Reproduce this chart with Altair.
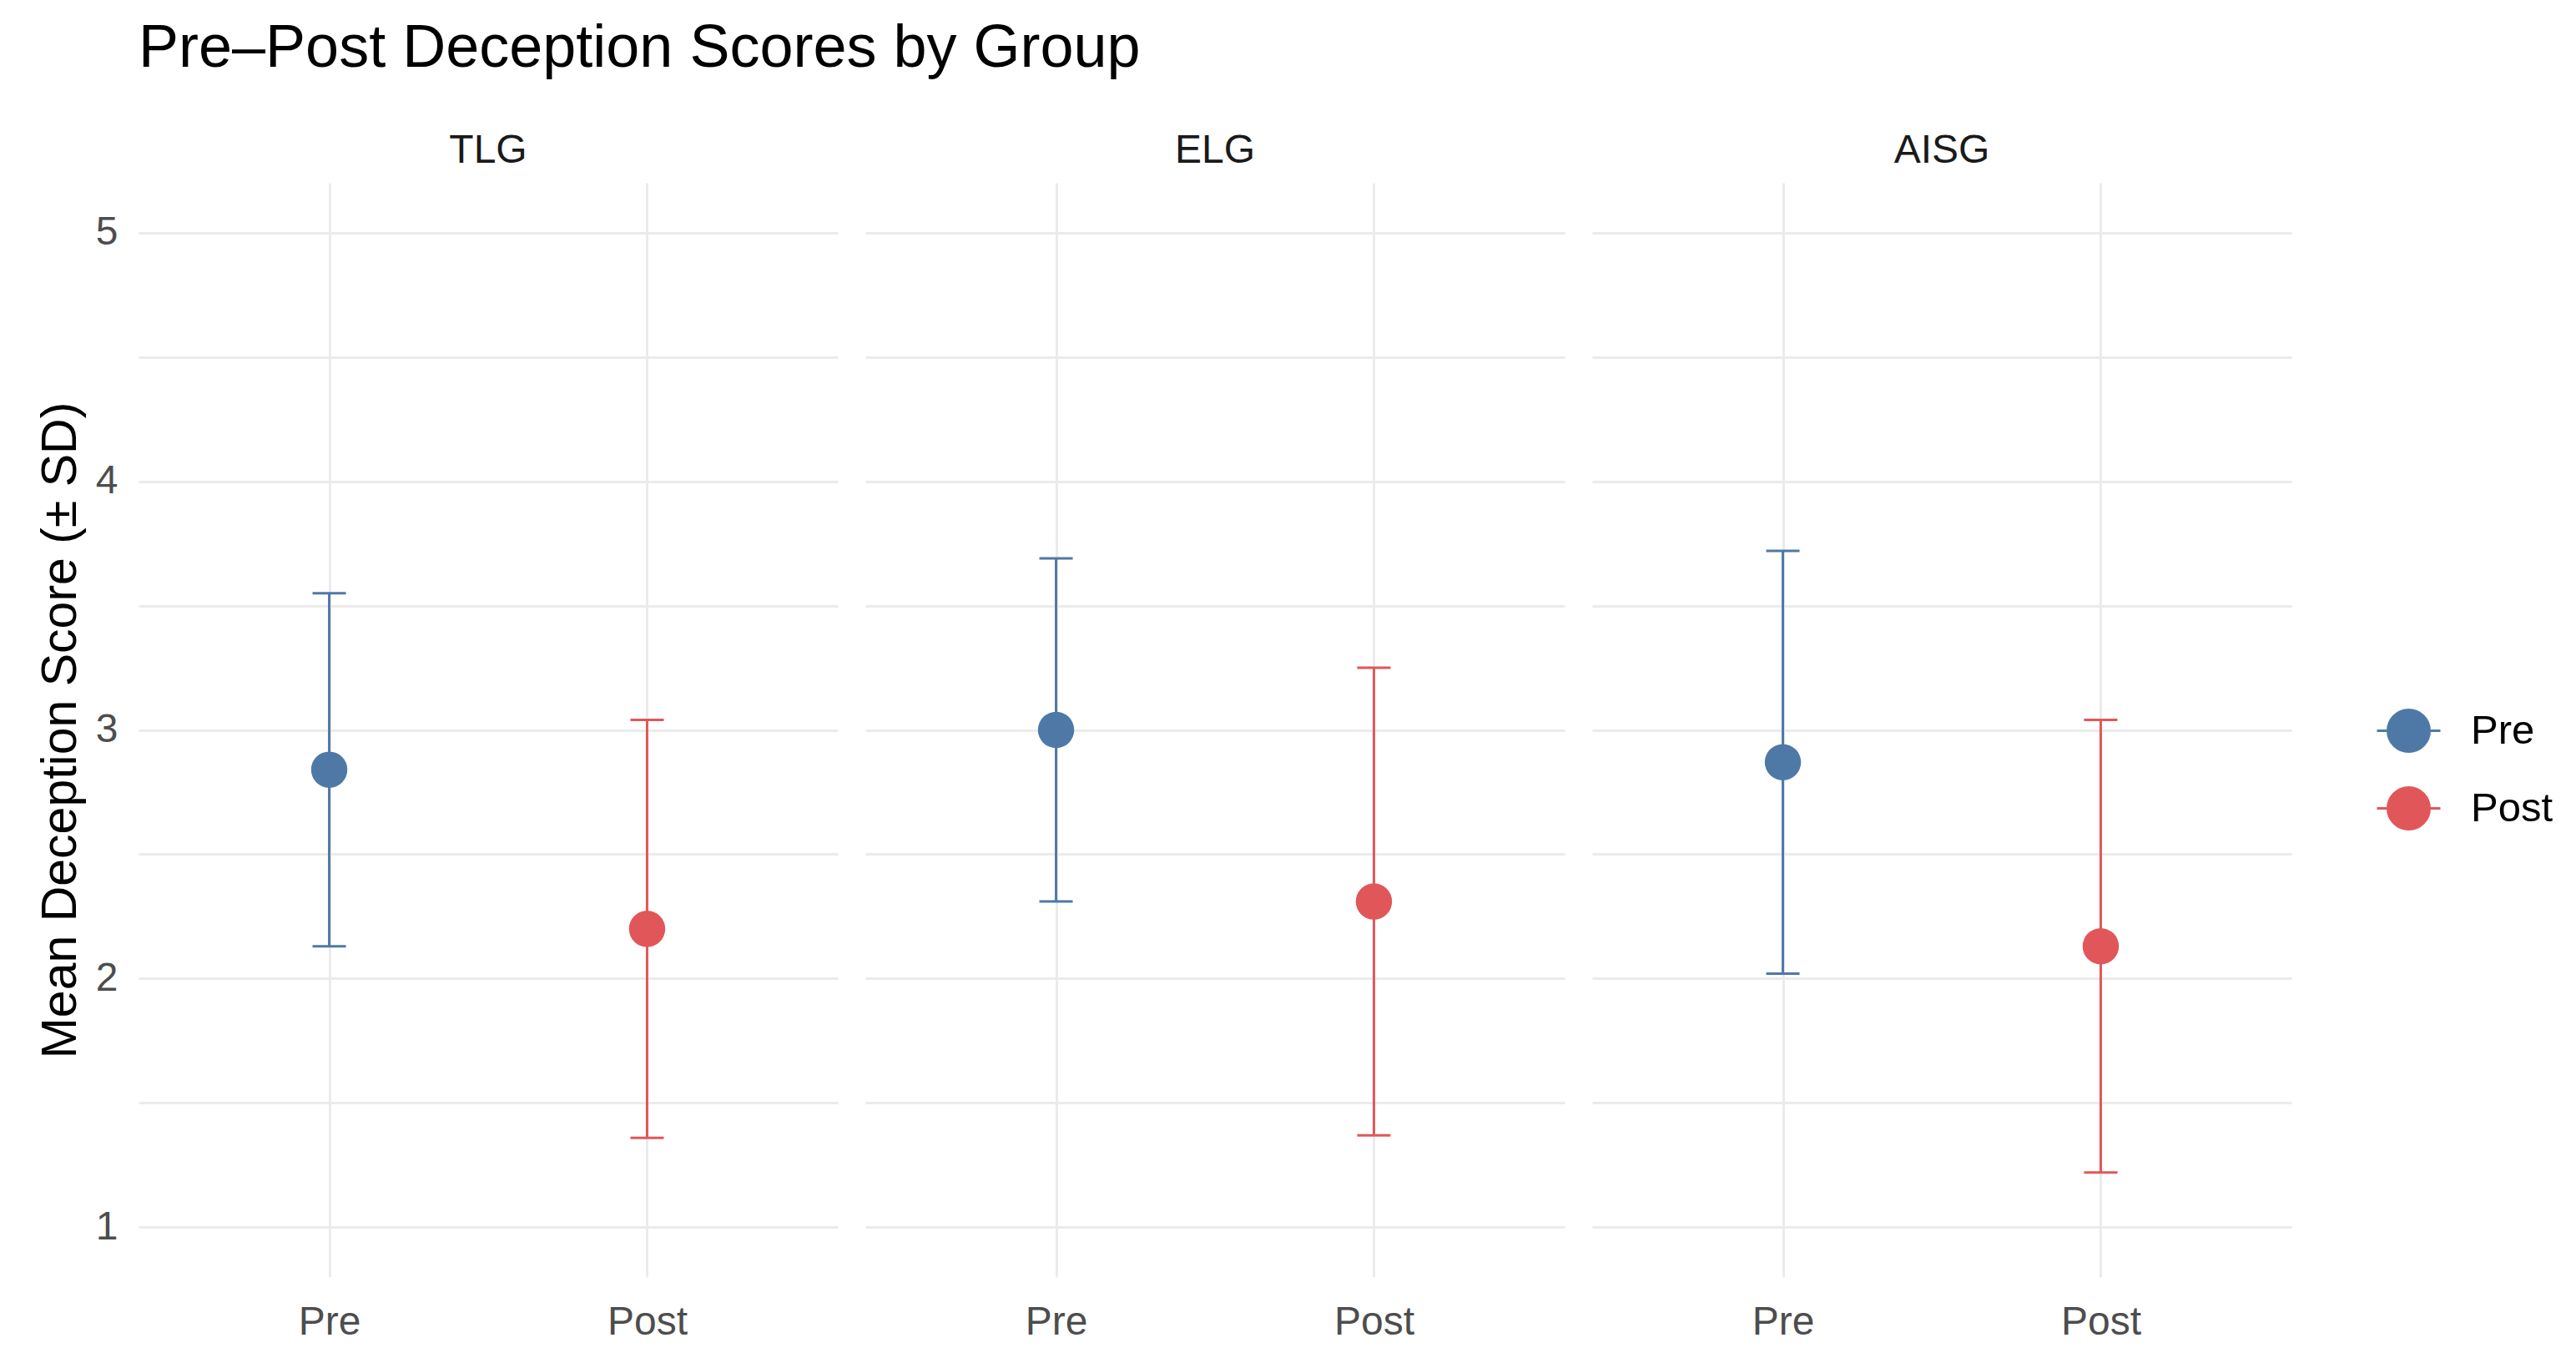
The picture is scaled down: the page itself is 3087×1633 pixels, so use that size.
import altair as alt
import pandas as pd

# ---- data ----
groups = ["TLG", "ELG", "AISG"]
times = ["Pre", "Post"]
pre_mean = [2.84, 3.00, 2.87]
pre_sd = [0.71, 0.69, 0.85]
post_mean = [2.20, 2.31, 2.13]
post_sd = [0.84, 0.94, 0.91]
colors = ["#4E79A7", "#E15759"]
y_grid_values = [1, 1.5, 2, 2.5, 3, 3.5, 4, 4.5, 5]

rows = []
for g, pm, ps, qm, qs in zip(groups, pre_mean, pre_sd, post_mean, post_sd):
    rows.append({"group": g, "time": "Pre", "mean": pm, "lo": pm - ps, "hi": pm + ps})
    rows.append({"group": g, "time": "Post", "mean": qm, "lo": qm - qs, "hi": qm + qs})
df = pd.DataFrame(rows)

FONT = "Liberation Sans"
GRID = "#EBEBEB"

x_enc = alt.X(
    "time:N",
    sort=times,
    scale=alt.Scale(type="point", padding=0.6),
    axis=alt.Axis(
        title=None, grid=True, gridColor=GRID, gridWidth=3, ticks=False, domain=False,
        labelAngle=0, labelFontSize=48, labelFont=FONT, labelColor="#4D4D4D", labelPadding=30,
    ),
)
y_scale = alt.Scale(domain=[0.8, 5.2], nice=False, zero=False)
y_axis = alt.Axis(
    title="Mean Deception Score (± SD)",
    values=y_grid_values,
    labelExpr="datum.value % 1 == 0 ? format(datum.value, 'd') : ''",
    grid=True, gridColor=GRID, gridWidth=3, ticks=False, domain=False,
    labelFontSize=48, labelFont=FONT, labelColor="#4D4D4D", labelPadding=25,
    titleFontSize=59, titleFont=FONT, titleFontWeight="normal", titleColor="black", titlePadding=12,
)

legend = alt.Legend(
    title=None,
    orient="none",
    legendX=2694,
    legendY=630,
    symbolType="M-1,0A1,1 0 1,1 1,0A1,1 0 1,1 -1,0Z M-1.52,0L1.52,0",
    symbolSize=2500,
    symbolStrokeWidth=3,
    symbolOpacity=1,
    labelFontSize=49,
    labelFont=FONT,
    labelColor="black",
    labelOffset=48,
    rowPadding=30,
)
color_enc = alt.Color("time:N", sort=times, scale=alt.Scale(domain=times, range=colors), legend=legend)
stroke_enc = alt.Stroke("time:N", sort=times, scale=alt.Scale(domain=times, range=colors), legend=legend)

base = alt.Chart(df)

rule = base.mark_rule(strokeWidth=3).encode(
    x=x_enc, y=alt.Y("lo:Q", scale=y_scale, axis=y_axis), y2="hi:Q", color=color_enc
)
caps = base.transform_fold(["lo", "hi"], as_=["end", "val"]).mark_tick(
    orient="horizontal", size=40, thickness=3, opacity=1
).encode(x=x_enc, y=alt.Y("val:Q", scale=y_scale, axis=y_axis), color=color_enc)
points = base.mark_point(filled=True, size=1890, opacity=1, strokeWidth=0, shape="circle").encode(
    x=x_enc, y=alt.Y("mean:Q", scale=y_scale, axis=y_axis), color=color_enc, stroke=stroke_enc
)

layered = alt.layer(rule, caps, points).properties(width=838, height=1311)

chart = (
    layered.facet(
        column=alt.Column(
            "group:N",
            sort=groups,
            header=alt.Header(
                title=None, labelFontSize=48, labelFont=FONT, labelColor="#1A1A1A",
                labelPadding=14,
            ),
        ),
        spacing=33,
    )
    .properties(
        title=alt.TitleParams(
            "Pre–Post Deception Scores by Group",
            anchor="start", frame="group", fontSize=72, font=FONT, fontWeight="normal",
            color="black", offset=62,
        ),
        padding={"left": 35, "top": 14, "right": 10, "bottom": 10},
        background="white",
    )
    .configure_view(stroke=None)
)

chart.save("out.html", embed_options={"renderer": "svg", "actions": False})
